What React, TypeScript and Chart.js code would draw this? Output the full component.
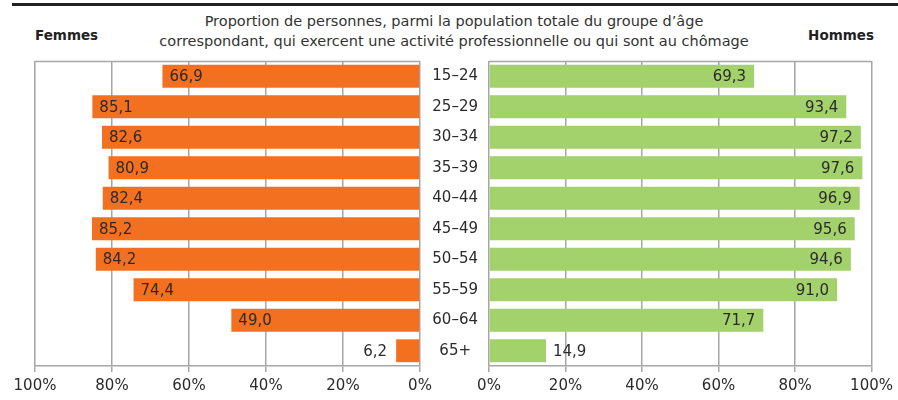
import React, { useEffect, useRef } from "react";
import { Chart, registerables } from "chart.js";

Chart.register(...registerables);

const categories = ["15–24", "25–29", "30–34", "35–39", "40–44", "45–49", "50–54", "55–59", "60–64", "65+"];
const femmes = [66.9, 85.1, 82.6, 80.9, 82.4, 85.2, 84.2, 74.4, 49.0, 6.2];
const hommes = [69.3, 93.4, 97.2, 97.6, 96.9, 95.6, 94.6, 91.0, 71.7, 14.9];
const xTicks = [0, 20, 40, 60, 80, 100];

const FONT = "'DejaVu Sans', 'Open Sans', sans-serif";
const ORANGE = "#F37021";
const GREEN = "#A3D16B";
const GRID = "#A6A6A6";
const TEXT = "#2b2b2b";

const fmt = (v: number) => v.toFixed(1).replace(".", ",");

function makeLabelPlugin(side: "left" | "right") {
  return {
    id: "valLabels" + side,
    afterDatasetsDraw(chart: any) {
      const ctx = chart.ctx;
      const meta = chart.getDatasetMeta(0);
      const data = chart.data.datasets[0].data as number[];
      ctx.save();
      ctx.font = `15px ${FONT}`;
      ctx.fillStyle = TEXT;
      ctx.textBaseline = "middle";
      meta.data.forEach((el: any, i: number) => {
        const v = data[i];
        const inside = v >= 20;
        const txt = fmt(v);
        if (side === "left") {
          if (inside) {
            ctx.textAlign = "left";
            ctx.fillText(txt, el.x + 7, el.y + 1);
          } else {
            ctx.textAlign = "right";
            ctx.fillText(txt, el.x - 9, el.y + 1);
          }
        } else {
          if (inside) {
            ctx.textAlign = "right";
            ctx.fillText(txt, el.x - 8, el.y + 1);
          } else {
            ctx.textAlign = "left";
            ctx.fillText(txt, el.x + 7, el.y + 1);
          }
        }
      });
      ctx.restore();
    },
  };
}

const topBorderPlugin = {
  id: "topBorder",
  beforeDatasetsDraw(chart: any) {
    const { ctx, chartArea } = chart;
    ctx.save();
    ctx.strokeStyle = GRID;
    ctx.lineWidth = 1.5;
    ctx.beginPath();
    ctx.moveTo(chartArea.left, chartArea.top + 0.5);
    ctx.lineTo(chartArea.right, chartArea.top + 0.5);
    ctx.stroke();
    ctx.restore();
  },
};

function xScale(reverse: boolean) {
  return {
    type: "linear" as const,
    min: 0,
    max: 100,
    reverse,
    afterBuildTicks(scale: any) {
      scale.ticks = xTicks.map((v) => ({ value: v }));
    },
    grid: {
      display: true,
      color: GRID,
      lineWidth: 1.5,
      drawTicks: true,
      tickLength: 6,
      tickColor: GRID,
    },
    border: { display: true, color: GRID, width: 1.5 },
    ticks: {
      color: TEXT,
      font: { family: FONT, size: 15 },
      padding: 5,
      maxRotation: 0,
      callback: (v: any) => `${v}%`,
    },
  };
}

export default function App() {
  const leftRef = useRef<HTMLCanvasElement>(null);
  const rightRef = useRef<HTMLCanvasElement>(null);

  useEffect(() => {
    const left = new Chart(leftRef.current!, {
      type: "bar",
      data: {
        labels: categories,
        datasets: [
          {
            data: femmes,
            backgroundColor: ORANGE,
            borderWidth: 0,
            categoryPercentage: 1,
            barPercentage: 0.75,
          },
        ],
      },
      options: {
        indexAxis: "y",
        responsive: false,
        animation: false,
        layout: { padding: { left: 35, right: 30, top: 61, bottom: 0 } },
        plugins: { legend: { display: false }, tooltip: { enabled: false } },
        scales: {
          x: xScale(true) as any,
          y: { display: false },
        },
      },
      plugins: [topBorderPlugin, makeLabelPlugin("left")],
    });

    const right = new Chart(rightRef.current!, {
      type: "bar",
      data: {
        labels: categories,
        datasets: [
          {
            data: hommes,
            backgroundColor: GREEN,
            borderWidth: 0,
            categoryPercentage: 1,
            barPercentage: 0.75,
          },
        ],
      },
      options: {
        indexAxis: "y",
        responsive: false,
        animation: false,
        layout: { padding: { left: 0, right: 24, top: 61, bottom: 0 } },
        plugins: { legend: { display: false }, tooltip: { enabled: false } },
        scales: {
          x: xScale(false) as any,
          y: {
            grid: { display: false, drawTicks: false },
            border: { display: false },
            afterFit(scale: any) {
              scale.width = 69;
            },
            ticks: {
              color: TEXT,
              font: { family: FONT, size: 15 },
              crossAlign: "center",
              padding: 11,
            },
          },
        },
      },
      plugins: [topBorderPlugin, makeLabelPlugin("right")],
    });

    return () => {
      left.destroy();
      right.destroy();
    };
  }, []);

  return (
    <div style={{ position: "absolute", left: 0, top: 0, width: 898, height: 400, background: "#fff", fontFamily: FONT, color: TEXT }}>
      <div style={{ position: "absolute", left: 12, top: 3, width: 886, height: 3, background: "#222" }} />
      <div style={{ position: "absolute", left: 0, top: 11, width: 908, textAlign: "center", fontSize: 14.5, lineHeight: "20px", color: "#333" }}>
        Proportion de personnes, parmi la population totale du groupe d’âge
        <br />
        correspondant, qui exercent une activité professionnelle ou qui sont au chômage
      </div>
      <div style={{ position: "absolute", left: 35, top: 27, fontSize: 13.5, fontWeight: "bold", color: "#222" }}>Femmes</div>
      <div style={{ position: "absolute", right: 24, top: 27, fontSize: 13.5, fontWeight: "bold", color: "#222" }}>Hommes</div>
      <canvas ref={leftRef} width={450} height={400} style={{ position: "absolute", left: 0, top: 0 }} />
      <canvas ref={rightRef} width={478} height={400} style={{ position: "absolute", left: 420, top: 0 }} />
    </div>
  );
}
